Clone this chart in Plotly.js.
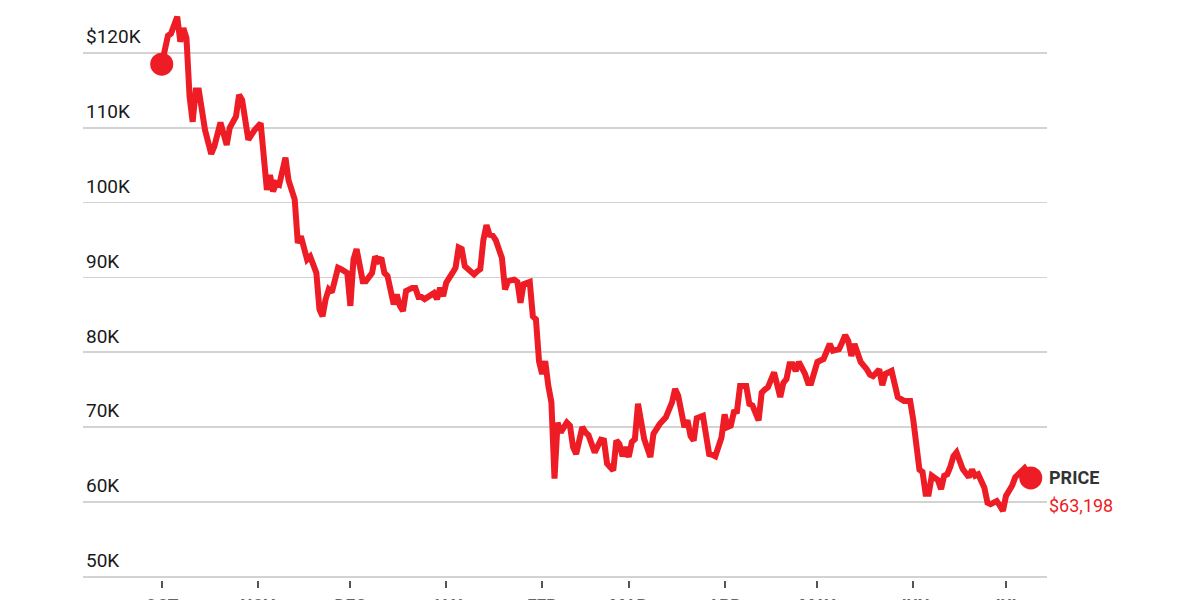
<!DOCTYPE html>
<html>
<head>
<meta charset="utf-8">
<script src="https://cdn.plot.ly/plotly-3.0.1.min.js"></script>
<style>
  html, body { margin: 0; padding: 0; background: #ffffff; }
  #chart { width: 1200px; height: 600px; }
</style>
</head>
<body>
<div id="chart"></div>
<script>
// ---- Data ----
const dates = [
  "2025-10-01","2025-10-02","2025-10-03","2025-10-04","2025-10-05","2025-10-06","2025-10-07","2025-10-08","2025-10-09","2025-10-10",
  "2025-10-11","2025-10-12","2025-10-13","2025-10-15","2025-10-17","2025-10-18","2025-10-20","2025-10-22","2025-10-23","2025-10-25",
  "2025-10-26","2025-10-27","2025-10-29","2025-10-31","2025-11-02","2025-11-04","2025-11-05","2025-11-06","2025-11-07","2025-11-08",
  "2025-11-10","2025-11-11","2025-11-13","2025-11-14","2025-11-15","2025-11-17","2025-11-18","2025-11-20","2025-11-21","2025-11-22",
  "2025-11-23","2025-11-24","2025-11-25","2025-11-27","2025-11-28","2025-11-30","2025-12-01","2025-12-02","2025-12-03","2025-12-04",
  "2025-12-05","2025-12-06","2025-12-08","2025-12-09","2025-12-10","2025-12-11","2025-12-12","2025-12-13","2025-12-15","2025-12-16",
  "2025-12-17","2025-12-18","2025-12-19","2025-12-21","2025-12-22","2025-12-23","2025-12-24","2025-12-25","2025-12-27","2025-12-28",
  "2025-12-29","2025-12-30","2025-12-31","2026-01-01","2026-01-03","2026-01-04","2026-01-05","2026-01-06","2026-01-07","2026-01-09",
  "2026-01-10","2026-01-11","2026-01-12","2026-01-13","2026-01-14","2026-01-15","2026-01-16","2026-01-17","2026-01-18","2026-01-19",
  "2026-01-20","2026-01-21","2026-01-23","2026-01-24","2026-01-25","2026-01-26","2026-01-28","2026-01-29","2026-01-30","2026-01-31",
  "2026-02-01","2026-02-02","2026-02-03","2026-02-04","2026-02-05","2026-02-06","2026-02-07","2026-02-09","2026-02-10","2026-02-11",
  "2026-02-12","2026-02-14","2026-02-15","2026-02-16","2026-02-18","2026-02-19","2026-02-20","2026-02-21","2026-02-22","2026-02-24",
  "2026-02-25","2026-02-26","2026-02-27","2026-02-28","2026-03-01","2026-03-02","2026-03-03","2026-03-04","2026-03-05","2026-03-06",
  "2026-03-08","2026-03-09","2026-03-11","2026-03-13","2026-03-15","2026-03-16","2026-03-17","2026-03-18","2026-03-19","2026-03-20",
  "2026-03-21","2026-03-22","2026-03-23","2026-03-25","2026-03-27","2026-03-28","2026-03-29","2026-03-31","2026-04-01","2026-04-02",
  "2026-04-03","2026-04-04","2026-04-05","2026-04-06","2026-04-08","2026-04-09","2026-04-10","2026-04-12","2026-04-13","2026-04-14",
  "2026-04-15","2026-04-17","2026-04-18","2026-04-19","2026-04-20","2026-04-21","2026-04-22","2026-04-23","2026-04-24","2026-04-25",
  "2026-04-27","2026-04-28","2026-04-29","2026-04-30","2026-05-01","2026-05-03","2026-05-04","2026-05-05","2026-05-06","2026-05-08",
  "2026-05-09","2026-05-10","2026-05-11","2026-05-12","2026-05-13","2026-05-14","2026-05-15","2026-05-17","2026-05-18","2026-05-19",
  "2026-05-21","2026-05-22","2026-05-23","2026-05-25","2026-05-26","2026-05-27","2026-05-29","2026-05-31","2026-06-01","2026-06-02",
  "2026-06-03","2026-06-04","2026-06-05","2026-06-06","2026-06-07","2026-06-09","2026-06-10","2026-06-11","2026-06-12","2026-06-13",
  "2026-06-14","2026-06-15","2026-06-16","2026-06-17","2026-06-19","2026-06-20","2026-06-21","2026-06-22","2026-06-24","2026-06-25",
  "2026-06-26","2026-06-28","2026-06-29","2026-06-30","2026-07-01","2026-07-03","2026-07-04","2026-07-06","2026-07-07","2026-07-09"
];
const prices = [
  118500,120800,122300,122600,123500,124850,121500,123300,122000,114200,
  110800,115000,115000,109700,106500,107500,110700,107700,110000,111500,
  114400,113700,108400,109700,110600,101700,103700,101500,102600,102400,
  106000,103000,100400,94600,95500,92400,92800,90600,85700,84800,
  87100,88400,88000,91300,91100,90600,86200,92400,93800,92000,
  89500,89500,90600,92800,92200,92600,90600,90200,86400,87700,
  86200,85500,88200,88600,88600,87400,87400,87100,87700,87900,
  87100,88600,87500,89300,90600,91300,94000,93800,91500,90800,
  90400,90800,91100,95000,97000,95700,95600,95000,93700,92600,
  88400,89500,89700,89400,86600,89100,89400,84800,84400,78800,
  77100,78800,75500,73300,63100,70600,69300,70600,70200,67300,
  66400,70000,69300,68900,66600,67300,68300,68200,65100,64200,
  68200,67700,66100,67300,66000,68000,68400,73100,70900,68400,
  66000,69100,70400,71300,73300,75100,74200,72000,70000,70900,
  68800,68200,71200,71500,66400,66300,66100,68600,71700,70000,
  70200,72000,72100,75500,75500,73100,72900,70900,74600,75000,
  75300,77300,75900,74000,75900,76400,78400,78400,77500,78700,
  77100,75900,75900,77300,78700,79100,80200,81100,80200,80400,
  81300,82300,81500,79500,81100,79500,78700,77700,77000,76800,
  77700,75600,77100,77500,75700,74000,73500,73500,71000,67100,
  64300,64000,61100,61100,63500,62900,61700,63500,63700,64700,
  66100,66600,65700,64400,63300,64300,63500,63700,61900,59900,
  59700,60100,59500,58800,60800,62200,63300,64200,64500,63198
];
const monthTickDates = ["2025-10-01","2025-11-01","2025-12-01","2026-01-01","2026-02-01","2026-03-01","2026-04-01","2026-05-01","2026-06-01","2026-07-01"];
const monthTickLabels = ["OCT","NOV","DEC","JAN","FEB","MAR","APR","MAY","JUN","JUL"];
const priceTickVals = [50000,60000,70000,80000,90000,100000,110000,120000];
const priceTickLabels = ["50K","60K","70K","80K","90K","100K","110K","$120K"];
const seriesLabel = "PRICE";

// ---- Chart ----
const RED = "#ee1c25";
const n = dates.length;
const lastVal = prices[n - 1];
const lastText = "$" + lastVal.toLocaleString("en-US");

const traceLine = {
  x: dates, y: prices, type: "scatter", mode: "lines",
  line: { color: RED, width: 6 },
  hoverinfo: "skip", cliponaxis: false, showlegend: false
};
const traceEnds = {
  x: [dates[0], dates[n - 1]], y: [prices[0], prices[n - 1]],
  type: "scatter", mode: "markers",
  marker: { color: RED, size: 23, line: { width: 0 } },
  hoverinfo: "skip", cliponaxis: false, showlegend: false
};

const layout = {
  width: 1200, height: 600,
  margin: { l: 83, r: 153, t: 0, b: 20, pad: 0 },
  paper_bgcolor: "#ffffff", plot_bgcolor: "#ffffff",
  showlegend: false,
  font: { family: "Roboto, 'Noto Sans', sans-serif", color: "#222222" },
  xaxis: {
    type: "date",
    range: ["2025-09-05 13:00", "2026-07-14 06:00"],
    tickmode: "array", tickvals: monthTickDates, ticktext: monthTickLabels,
    ticks: "outside", ticklen: 7, tickwidth: 2, tickcolor: "#555555",
    ticklabelstandoff: 3,
    showgrid: false, zeroline: false,
    showline: false,
    tickfont: { family: "Roboto, sans-serif", size: 17, color: "#666666", weight: 700 },
    fixedrange: true
  },
  yaxis: {
    range: [49559, 127080],
    tickmode: "array", tickvals: priceTickVals, ticktext: priceTickLabels,
    ticklabelposition: "inside top",
    ticklabeloverflow: "allow",
    showgrid: true, gridcolor: "#d3d3d3", gridwidth: 1.6,
    zeroline: false, showline: false, ticks: "",
    tickfont: { family: "Roboto, sans-serif", size: 19, color: "#1a1a1a" },
    ticklabelshift: -3,
    fixedrange: true
  },
  annotations: [
    {
      x: dates[n - 1], y: lastVal, xref: "x", yref: "y",
      text: "<b>" + seriesLabel + "</b>", showarrow: false,
      xanchor: "left", yanchor: "middle", xshift: 16, yshift: 0,
      font: { family: "Roboto, sans-serif", size: 18, color: "#333333" }
    },
    {
      x: dates[n - 1], y: lastVal, xref: "x", yref: "y",
      text: lastText, showarrow: false,
      xanchor: "left", yanchor: "middle", xshift: 16, yshift: -28,
      font: { family: "Roboto, sans-serif", size: 18, color: RED }
    }
  ]
};

Plotly.newPlot("chart", [traceLine, traceEnds], layout, { staticPlot: true, displayModeBar: false });
</script>
</body>
</html>
